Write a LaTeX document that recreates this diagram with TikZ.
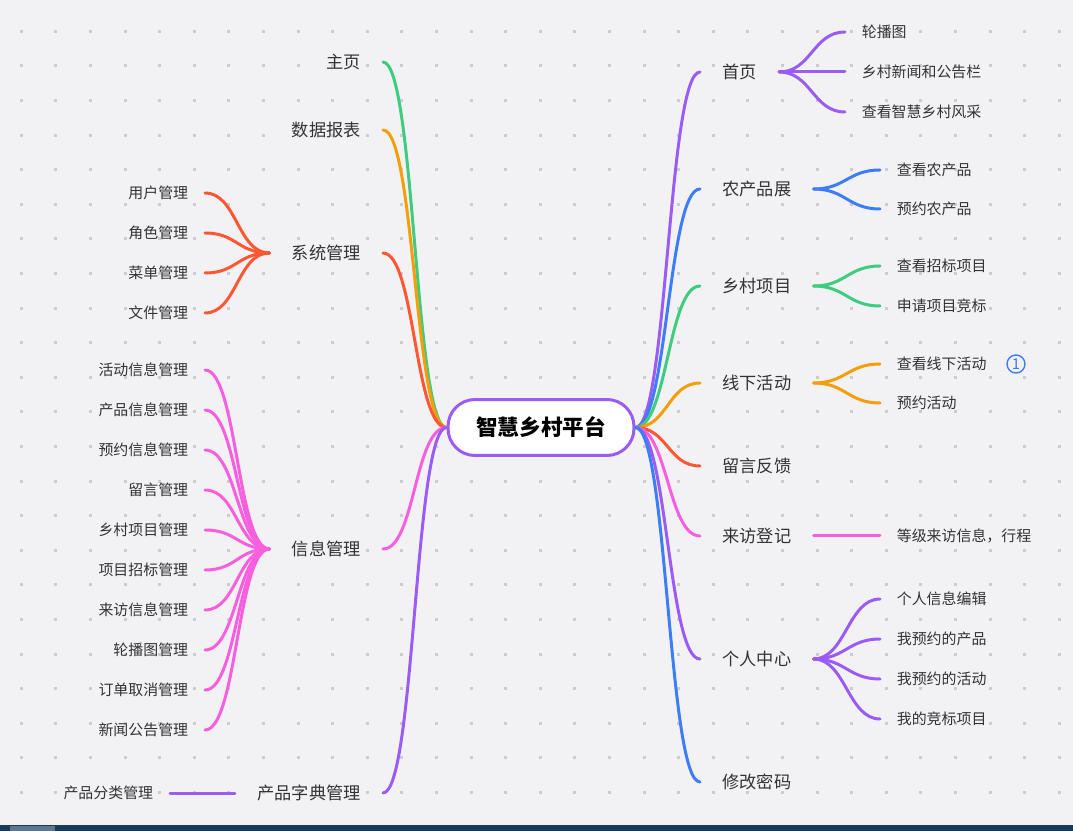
\documentclass[tikz,border=0pt]{standalone}
\usepackage{fontspec}
\setmainfont{Noto Sans CJK SC}
\usepackage{xcolor}
\usetikzlibrary{positioning, arrows.meta}

\definecolor{bgc}{HTML}{F2F2F5}
\definecolor{dotc}{HTML}{CCCCD0}
\definecolor{txtc}{HTML}{333333}
\definecolor{cpurple}{HTML}{9B5CF6}
\definecolor{cblue}{HTML}{3D7EF7}
\definecolor{cgreen}{HTML}{3ECC7E}
\definecolor{corange}{HTML}{F59E0B}
\definecolor{cred}{HTML}{FF5733}
\definecolor{cpink}{HTML}{F75FDE}
\definecolor{barc}{HTML}{1B3A57}

\begin{document}
\begin{tikzpicture}[
    x=0.02cm, y=-0.02cm,
    root/.style={draw=cpurple, line width=0.06cm, fill=white, rectangle, rounded corners=0.54cm,
        minimum width=3.72cm, minimum height=1.12cm, font=\fontsize{12.3}{14}\selectfont\bfseries, text=black},
    topic/.style={inner xsep=0.44cm, inner ysep=2pt, font=\fontsize{9.8}{12}\selectfont, text=txtc},
    leaf/.style={inner xsep=0.33cm, inner ysep=2pt, font=\fontsize{8.5}{10}\selectfont, text=txtc},
    brline/.style={line width=0.06cm, line cap=round},
]
% Background and dot grid
\fill[bgc] (0,0) rectangle (1073,831);
\foreach \i in {0,...,30}
  \foreach \j in {0,...,22}
    \fill[dotc] ({19.8+34.6*\i},{29.8+34.6*\j}) rectangle +(3,3);
\fill[barc] (0,825) rectangle (1073,831);
\fill[barc!70!white] (10,826) rectangle (55,831);
\useasboundingbox (0,0) rectangle (1073,831);

% Root
\node[root] (root) at (541,427.5) {智慧乡村平台};

% Right topics
\node[topic, anchor=west] (shouye) at (700,72) {首页};
\node[topic, anchor=west] (nongchan) at (700,189) {农产品展};
\node[topic, anchor=west] (xiangmu) at (700,286) {乡村项目};
\node[topic, anchor=west] (huodong) at (700,383) {线下活动};
\node[topic, anchor=west] (liuyan) at (700,466) {留言反馈};
\node[topic, anchor=west] (laifang) at (700,536) {来访登记};
\node[topic, anchor=west] (geren) at (700,659) {个人中心};
\node[topic, anchor=west] (mima) at (700,782) {修改密码};

% Left topics
\node[topic, anchor=east] (zhuye) at (383,62) {主页};
\node[topic, anchor=east] (baobiao) at (383,130) {数据报表};
\node[topic, anchor=east] (xitong) at (383,253) {系统管理};
\node[topic, anchor=east] (xinxi) at (383,549) {信息管理};
\node[topic, anchor=east] (zidian) at (383,793) {产品字典管理};

% Right leaves
\node[leaf, anchor=west] (lunbo) at (845,32) {轮播图};
\node[leaf, anchor=west] (xinwen) at (845,72) {乡村新闻和公告栏};
\node[leaf, anchor=west] (fengcai) at (845,112) {查看智慧乡村风采};
\node[leaf, anchor=west] (ckncp) at (880,170) {查看农产品};
\node[leaf, anchor=west] (yyncp) at (880,209) {预约农产品};
\node[leaf, anchor=west] (ckzb) at (880,266) {查看招标项目};
\node[leaf, anchor=west] (sqjb) at (880,306) {申请项目竞标};
\node[leaf, anchor=west] (ckhd) at (880,364) {查看线下活动};
\node[leaf, anchor=west] (yyhd) at (880,403) {预约活动};
\node[leaf, anchor=west] (djlf) at (880,536) {等级来访信息，行程};
\node[leaf, anchor=west] (bianji) at (880,599) {个人信息编辑};
\node[leaf, anchor=west] (wdcp) at (880,639) {我预约的产品};
\node[leaf, anchor=west] (wdhd) at (880,679) {我预约的活动};
\node[leaf, anchor=west] (wdjb) at (880,719) {我的竞标项目};

% Marker
\node[draw=cblue, circle, thick, inner sep=0pt, minimum size=0.36cm, text=cblue,
      font=\fontsize{8.5}{10}\selectfont] (mark1) at (1016,364) {1};

% Left leaves
\node[leaf, anchor=east] (yonghu) at (205,193) {用户管理};
\node[leaf, anchor=east] (juese) at (205,233) {角色管理};
\node[leaf, anchor=east] (caidan) at (205,273) {菜单管理};
\node[leaf, anchor=east] (wenjian) at (205,313) {文件管理};
\node[leaf, anchor=east] (hdxx) at (205,370) {活动信息管理};
\node[leaf, anchor=east] (cpxx) at (205,410) {产品信息管理};
\node[leaf, anchor=east] (yyxx) at (205,450) {预约信息管理};
\node[leaf, anchor=east] (lygl) at (205,490) {留言管理};
\node[leaf, anchor=east] (xmgl) at (205,530) {乡村项目管理};
\node[leaf, anchor=east] (zbgl) at (205,570) {项目招标管理};
\node[leaf, anchor=east] (lfgl) at (205,610) {来访信息管理};
\node[leaf, anchor=east] (lbgl) at (205,650) {轮播图管理};
\node[leaf, anchor=east] (ddqx) at (205,690) {订单取消管理};
\node[leaf, anchor=east] (xwgg) at (205,730) {新闻公告管理};
\node[leaf, anchor=east] (fenlei) at (170,793) {产品分类管理};

% Root-to-topic links (right)
\draw[brline, cpurple] (root.east) .. controls +(32,0) and +(-32,0) .. (shouye.west);
\draw[brline, cblue] (root.east) .. controls +(32,0) and +(-32,0) .. (nongchan.west);
\draw[brline, cgreen] (root.east) .. controls +(32,0) and +(-32,0) .. (xiangmu.west);
\draw[brline, corange] (root.east) .. controls +(32,0) and +(-32,0) .. (huodong.west);
\draw[brline, cred] (root.east) .. controls +(32,0) and +(-32,0) .. (liuyan.west);
\draw[brline, cpink] (root.east) .. controls +(32,0) and +(-32,0) .. (laifang.west);
\draw[brline, cpurple] (root.east) .. controls +(32,0) and +(-32,0) .. (geren.west);
\draw[brline, cblue] (root.east) .. controls +(32,0) and +(-32,0) .. (mima.west);

% Root-to-topic links (left)
\draw[brline, cgreen] (root.west) .. controls +(-32,0) and +(32,0) .. (zhuye.east);
\draw[brline, corange] (root.west) .. controls +(-32,0) and +(32,0) .. (baobiao.east);
\draw[brline, cred] (root.west) .. controls +(-32,0) and +(32,0) .. (xitong.east);
\draw[brline, cpink] (root.west) .. controls +(-32,0) and +(32,0) .. (xinxi.east);
\draw[brline, cpurple] (root.west) .. controls +(-32,0) and +(32,0) .. (zidian.east);

% Topic-to-leaf links (right)
\draw[brline, cpurple] (shouye.east) .. controls +(32,0) and +(-32,0) .. (lunbo.west);
\draw[brline, cpurple] (shouye.east) -- (xinwen.west);
\draw[brline, cpurple] (shouye.east) .. controls +(32,0) and +(-32,0) .. (fengcai.west);
\draw[brline, cblue] (nongchan.east) .. controls +(32,0) and +(-32,0) .. (ckncp.west);
\draw[brline, cblue] (nongchan.east) .. controls +(32,0) and +(-32,0) .. (yyncp.west);
\draw[brline, cgreen] (xiangmu.east) .. controls +(32,0) and +(-32,0) .. (ckzb.west);
\draw[brline, cgreen] (xiangmu.east) .. controls +(32,0) and +(-32,0) .. (sqjb.west);
\draw[brline, corange] (huodong.east) .. controls +(32,0) and +(-32,0) .. (ckhd.west);
\draw[brline, corange] (huodong.east) .. controls +(32,0) and +(-32,0) .. (yyhd.west);
\draw[brline, cpink] (laifang.east) -- (djlf.west);
\draw[brline, cpurple] (geren.east) .. controls +(32,0) and +(-32,0) .. (bianji.west);
\draw[brline, cpurple] (geren.east) .. controls +(32,0) and +(-32,0) .. (wdcp.west);
\draw[brline, cpurple] (geren.east) .. controls +(32,0) and +(-32,0) .. (wdhd.west);
\draw[brline, cpurple] (geren.east) .. controls +(32,0) and +(-32,0) .. (wdjb.west);

% Topic-to-leaf links (left)
\draw[brline, cred] (xitong.west) .. controls +(-32,0) and +(32,0) .. (yonghu.east);
\draw[brline, cred] (xitong.west) .. controls +(-32,0) and +(32,0) .. (juese.east);
\draw[brline, cred] (xitong.west) .. controls +(-32,0) and +(32,0) .. (caidan.east);
\draw[brline, cred] (xitong.west) .. controls +(-32,0) and +(32,0) .. (wenjian.east);
\draw[brline, cpink] (xinxi.west) .. controls +(-32,0) and +(32,0) .. (hdxx.east);
\draw[brline, cpink] (xinxi.west) .. controls +(-32,0) and +(32,0) .. (cpxx.east);
\draw[brline, cpink] (xinxi.west) .. controls +(-32,0) and +(32,0) .. (yyxx.east);
\draw[brline, cpink] (xinxi.west) .. controls +(-32,0) and +(32,0) .. (lygl.east);
\draw[brline, cpink] (xinxi.west) .. controls +(-32,0) and +(32,0) .. (xmgl.east);
\draw[brline, cpink] (xinxi.west) .. controls +(-32,0) and +(32,0) .. (zbgl.east);
\draw[brline, cpink] (xinxi.west) .. controls +(-32,0) and +(32,0) .. (lfgl.east);
\draw[brline, cpink] (xinxi.west) .. controls +(-32,0) and +(32,0) .. (lbgl.east);
\draw[brline, cpink] (xinxi.west) .. controls +(-32,0) and +(32,0) .. (ddqx.east);
\draw[brline, cpink] (xinxi.west) .. controls +(-32,0) and +(32,0) .. (xwgg.east);
\draw[brline, cpurple] (zidian.west) -- (fenlei.east);
\end{tikzpicture}
\end{document}
